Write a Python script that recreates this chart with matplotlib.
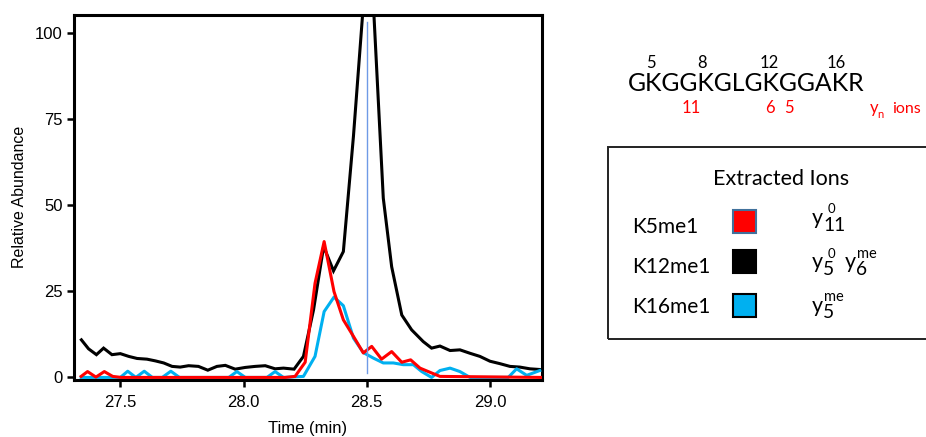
import numpy as np
import matplotlib
matplotlib.use("Agg")
import matplotlib.pyplot as plt
from matplotlib.patches import Rectangle

# ---- data (time in min, relative abundance) ----
t_k12 = [27.342, 27.371, 27.403, 27.432, 27.466, 27.500, 27.534, 27.568, 27.608, 27.642,
         27.676, 27.710, 27.743, 27.777, 27.817, 27.855, 27.892, 27.926, 27.966, 28.007,
         28.047, 28.088, 28.128, 28.162, 28.205, 28.243, 28.284, 28.325, 28.365, 28.405,
         28.446, 28.486, 28.527, 28.567, 28.601, 28.642, 28.682, 28.729, 28.763, 28.797,
         28.838, 28.878, 28.919, 28.959, 29.000, 29.040, 29.081, 29.121, 29.162, 29.202]
v_k12 = [10.9, 8.3, 6.6, 8.5, 6.6, 6.9, 6.1, 5.5, 5.3, 4.8,
         4.2, 3.2, 3.0, 3.4, 3.2, 2.1, 3.2, 3.5, 2.4, 2.9,
         3.2, 3.4, 2.5, 2.7, 2.4, 6.1, 19.6, 38.0, 30.9, 36.5,
         70.0, 108.0, 108.0, 52.0, 32.1, 18.1, 13.8, 10.4, 8.5, 9.1,
         7.8, 8.0, 7.0, 6.1, 4.7, 4.0, 3.2, 3.0, 2.5, 2.3]

t_k16 = [27.341, 27.500, 27.530, 27.563, 27.597, 27.630, 27.670, 27.705, 27.740, 27.940,
         27.973, 28.007, 28.095, 28.128, 28.162, 28.243, 28.290, 28.327, 28.367, 28.405,
         28.446, 28.486, 28.527, 28.567, 28.608, 28.648, 28.689, 28.723, 28.763, 28.797,
         28.838, 28.878, 28.919, 29.074, 29.108, 29.149, 29.202]
v_k16 = [0.0, 0.0, 1.8, 0.0, 1.8, 0.0, 0.0, 1.8, 0.0, 0.0,
         1.7, 0.0, 0.0, 1.7, 0.0, 0.3, 6.1, 19.1, 23.3, 20.8,
         11.4, 7.2, 5.6, 4.2, 4.2, 3.7, 3.7, 1.7, 0.0, 2.0,
         2.7, 1.7, 0.0, 0.0, 2.5, 0.6, 2.0]

t_k5 = [27.341, 27.367, 27.401, 27.435, 27.469, 27.503, 28.170, 28.209, 28.250, 28.290,
        28.327, 28.367, 28.405, 28.446, 28.486, 28.520, 28.560, 28.601, 28.642, 28.678,
        28.716, 28.763, 28.797, 29.210]
v_k5 = [0.3, 1.7, 0.1, 1.7, 0.3, 0.0, 0.0, 0.3, 4.4, 27.3,
        39.4, 24.9, 16.7, 11.9, 7.1, 9.0, 5.3, 7.5, 4.4, 5.1,
        2.7, 1.3, 0.3, 0.0]

marker_time = 28.5
marker_span = (1.2, 103.0)

x_ticks = [27.5, 28.0, 28.5, 29.0]
y_ticks = [0, 25, 50, 75, 100]

peptide = "GKGGKGLGKGGAKR"
site_labels = ["5", "8", "12", "16"]
ion_labels = ["11", "6", "5"]
legend_names = ["K5me1", "K12me1", "K16me1"]
legend_colors = ["#ff0000", "#000000", "#00b0f0"]
legend_edges = ["#41719c", "#000000", "#000000"]

W, H = 926, 437
fig = plt.figure(figsize=(W / 100, H / 100), dpi=100)

def px(x, y):
    # pixel position (from top left) -> figure fraction
    return x / W, 1 - y / H

ax = fig.add_axes([74 / W, 1 - 379.5 / H, (541.5 - 74) / W, (379.5 - 15) / H])
ax.plot(t_k12, v_k12, color="black", lw=2.2, solid_joinstyle="miter", zorder=2)
ax.plot(t_k16, v_k16, color="#00b0f0", lw=2.2, zorder=3)
ax.plot(t_k5, v_k5, color="#ff0000", lw=2.2, zorder=4)
ax.plot([marker_time, marker_time], marker_span, color="#6f9ae6", lw=1.0, zorder=5)

ax.set_xlim(27.312, 29.209)
ax.set_ylim(-0.6, 105.1)
ax.set_xticks(x_ticks)
ax.set_xticklabels(["%.1f" % v for v in x_ticks])
ax.set_yticks(y_ticks)
for s in ax.spines.values():
    s.set_linewidth(2.2)
ax.tick_params(direction="out", length=5, width=1.8, labelsize=12, pad=3)
ax.tick_params(axis="x", pad=6)
for lab in ax.get_xticklabels() + ax.get_yticklabels():
    lab.set_fontfamily("Liberation Sans")
ax.set_xlabel("Time (min)", fontsize=12, family="Liberation Sans", labelpad=8)
ax.set_ylabel("Relative Abundance", fontsize=11.5, family="Liberation Sans", labelpad=6)

# ---- peptide sequence with sites ----
cal = "Lato"
fig.text(*px(628, 90.7), peptide, fontsize=17.9, family=cal, ha="left", va="baseline")
for lab, xc in zip(site_labels, [650.5, 701.7, 769.2, 835.8]):
    fig.text(*px(xc, 68.3), lab, fontsize=12, family=cal, ha="center", va="baseline")
for lab, xc in zip(ion_labels, [690.8, 769.7, 789.0]):
    fig.text(*px(xc, 113.3), lab, fontsize=12, family=cal, color="red",
             ha="center", va="baseline")
fig.text(*px(870, 113.3), "y", fontsize=12, family=cal, color="red", va="baseline")
fig.text(*px(877.5, 117.5), "n", fontsize=8, family=cal, color="red", va="baseline")
fig.text(*px(892, 113.3), "ions", fontsize=11.5, family=cal, color="red", va="baseline")

# ---- legend box ----
fig.patches.append(Rectangle(px(608.3, 339), (935 - 608.3) / W, (339 - 146.7) / H,
                             transform=fig.transFigure, fill=False, lw=1.4,
                             edgecolor="#222222"))
fig.text(*px(780.8, 185), "Extracted Ions", fontsize=15.5, family=cal,
         ha="center", va="baseline")
rows_y = [233.3, 273.3, 313.3]
sq_top = [210, 250, 294.3]
for name, fc, ec, yb, st in zip(legend_names, legend_colors, legend_edges, rows_y, sq_top):
    fig.text(*px(631.7, yb), name, fontsize=15, family=cal, va="baseline")
    fig.patches.append(Rectangle(px(733.3, st + 22.5), 22.7 / W, 22.5 / H,
                                 transform=fig.transFigure, facecolor=fc,
                                 edgecolor=ec, lw=1.5))

def ion(x, y_base, sub, sup):
    fig.text(*px(x, y_base), "y", fontsize=15.5, family=cal, va="baseline")
    fig.text(*px(x + 11.3, y_base + 6.5), sub, fontsize=13.8, family=cal, va="baseline")
    off = 15.5 if sup == "0" else 12.5
    fig.text(*px(x + off, y_base - 11), sup, fontsize=9.5 if sup == "0" else 10.5,
             family=cal, va="baseline")

ion(811.7, 224.5, "11", "0")
ion(811.7, 268.5, "5", "0")
ion(845.0, 268.5, "6", "me")
ion(811.7, 311.8, "5", "me")

fig.savefig("out.png", dpi=100)
